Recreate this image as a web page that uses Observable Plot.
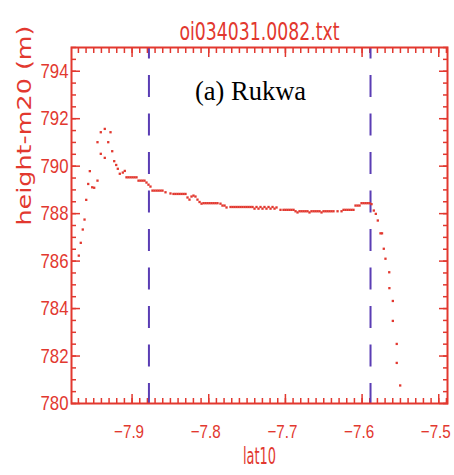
<!DOCTYPE html>
<html>
<head>
<meta charset="utf-8">
<script src="https://cdn.jsdelivr.net/npm/d3@7"></script>
<script src="https://cdn.jsdelivr.net/npm/@observablehq/plot@0.6"></script>
<style>
  html, body { margin: 0; padding: 0; background: #fff; }
</style>
</head>
<body>
<div id="chart"></div>
<script>
const title = "oi034031.0082.txt";
const panelLabel = "(a) Rukwa";
const xLabel = "lat10";
const yLabel = "height-m20 (m)";

const xTicks = [-7.9, -7.8, -7.7, -7.6, -7.5];
const yTicks = [780, 782, 784, 786, 788, 790, 792, 794];
const xDomain = [-7.979, -7.4886];
const yDomain = [780, 795];
const dashLats = [-7.878, -7.589];

const lat = [
  -7.9695, -7.9669, -7.9643, -7.9620, -7.9598, -7.9572, -7.9551, -7.9520, -7.9494, -7.9451,
  -7.9451, -7.9408, -7.9408, -7.9356, -7.9356, -7.9311, -7.9281, -7.9259, -7.9233, -7.9207,
  -7.9186, -7.9160, -7.9121, -7.9095,
  -7.9073, -7.9047, -7.9020, -7.8994, -7.8968, -7.8942, -7.8916, -7.8890, -7.8864, -7.8838,
  -7.8812, -7.8786, -7.8760, -7.8734, -7.8708, -7.8681, -7.8655, -7.8629, -7.8603, -7.8564,
  -7.8499, -7.8460, -7.8434, -7.8407, -7.8381, -7.8355, -7.8329, -7.8303, -7.8277, -7.8251,
  -7.8225, -7.8199, -7.8173, -7.8147, -7.8120, -7.8094, -7.8068, -7.8042, -7.8016, -7.7990,
  -7.7964, -7.7938, -7.7912, -7.7886, -7.7847, -7.7821, -7.7794, -7.7768, -7.7716, -7.7690,
  -7.7664, -7.7638, -7.7612, -7.7586, -7.7560, -7.7533, -7.7507, -7.7481, -7.7455, -7.7429,
  -7.7403, -7.7377, -7.7351, -7.7325, -7.7299, -7.7273, -7.7247, -7.7220, -7.7194, -7.7168,
  -7.7142, -7.7116, -7.7064, -7.7025, -7.6999, -7.6973, -7.6947, -7.6921, -7.6894, -7.6868,
  -7.6842, -7.6816, -7.6790, -7.6764, -7.6738, -7.6712, -7.6686, -7.6660, -7.6633, -7.6607,
  -7.6581, -7.6555, -7.6529, -7.6503, -7.6477, -7.6451, -7.6425, -7.6399, -7.6373, -7.6320,
  -7.6268, -7.6242, -7.6216, -7.6190, -7.6164, -7.6138, -7.6112, -7.6086, -7.6059, -7.6033,
  -7.6007, -7.5981, -7.5955, -7.5929, -7.5903, -7.5877,
  -7.5847, -7.5821, -7.5795, -7.5760, -7.5740, -7.5717, -7.5695, -7.5646, -7.5644, -7.5599,
  -7.5599, -7.5548, -7.5548, -7.5503
];
const height = [
  786.23, 786.77, 787.33, 787.75, 788.58, 789.25, 789.79, 789.11, 789.09, 789.39,
  791.01, 791.43, 790.52, 791.57, 790.35, 791.01, 791.43, 790.63, 790.21, 790.05,
  789.89, 789.68, 789.73, 789.80,
  789.53, 789.53, 789.53, 789.53, 789.53, 789.53, 789.39, 789.39, 789.39, 789.39,
  789.31, 789.22, 789.14, 788.97, 788.97, 788.97, 788.97, 788.97, 788.97, 788.90,
  788.85, 788.83, 788.83, 788.83, 788.83, 788.83, 788.83, 788.83, 788.68, 788.59,
  788.72, 788.76, 788.72, 788.59, 788.49, 788.42, 788.44, 788.44, 788.44, 788.44,
  788.44, 788.44, 788.44, 788.44, 788.42, 788.34, 788.34, 788.26, 788.28, 788.28,
  788.28, 788.28, 788.28, 788.28, 788.28, 788.28, 788.28, 788.28, 788.28, 788.28,
  788.21, 788.28, 788.21, 788.28, 788.21, 788.28, 788.21, 788.28, 788.21, 788.28,
  788.21, 788.26, 788.16, 788.16, 788.16, 788.16, 788.16, 788.16, 788.16, 788.10,
  788.05, 788.10, 788.10, 788.10, 788.10, 788.10, 788.05, 788.10, 788.10, 788.10,
  788.10, 788.10, 788.05, 788.10, 788.10, 788.10, 788.10, 788.10, 788.10, 788.10,
  788.10, 788.16, 788.16, 788.16, 788.16, 788.16, 788.16, 788.34, 788.34, 788.34,
  788.44, 788.44, 788.44, 788.44, 788.44, 788.40,
  788.13, 787.99, 787.71, 787.17, 787.17, 786.52, 786.10, 785.53, 784.86, 784.32,
  783.48, 782.51, 781.71, 780.76
];

const RED = "#e2382f";
const PURPLE = "#5a3db4";
const points = lat.map((d, i) => ({lat: d, h: height[i]}));
const xMinor = d3.range(-797, -748).map(d => d / 100);
const yMinor = d3.range(1560, 1591).map(d => d / 2);
const sansFont = "'DejaVu Sans', sans-serif";

const tickCommon = {text: null, label: null, strokeWidth: 1.5};

const chart = Plot.plot({
  width: 454,
  height: 475,
  marginTop: 47,
  marginBottom: 72,
  marginLeft: 71,
  marginRight: 7,
  style: {background: "#fff", color: RED, fontFamily: sansFont},
  x: {domain: xDomain},
  y: {domain: yDomain},
  marks: [
    Plot.axisX({...tickCommon, anchor: "bottom", ticks: xMinor, tickSize: -5}),
    Plot.axisX({...tickCommon, anchor: "bottom", ticks: xTicks, tickSize: -9}),
    Plot.axisX({...tickCommon, anchor: "top", ticks: xMinor, tickSize: -5}),
    Plot.axisX({...tickCommon, anchor: "top", ticks: xTicks, tickSize: -9}),
    Plot.axisY({...tickCommon, anchor: "left", ticks: yMinor, tickSize: -5}),
    Plot.axisY({...tickCommon, anchor: "left", ticks: yTicks, tickSize: -9}),
    Plot.axisY({...tickCommon, anchor: "right", ticks: yMinor, tickSize: -5}),
    Plot.axisY({...tickCommon, anchor: "right", ticks: yTicks, tickSize: -9}),
    Plot.axisX({anchor: "bottom", ticks: xTicks, tickSize: 0, tickPadding: 21, fontSize: 18.5, label: null, fill: RED, dx: -3,
      fontFamily: "'Liberation Sans', sans-serif",
      tickFormat: d => d.toFixed(1).replace("-", "\u2212"), className: "xtl"}),
    Plot.axisY({anchor: "left", ticks: yTicks, tickSize: 0, tickPadding: 3, fontSize: 21, label: null, fill: RED,
      fontFamily: "'Liberation Sans', sans-serif",
      tickFormat: d => String(d), className: "ytl"}),
    Plot.ruleX(dashLats, {stroke: PURPLE, strokeWidth: 2, strokeDasharray: "22,16.5", strokeDashoffset: 10.5}),
    Plot.frame({stroke: RED, strokeWidth: 2}),
    Plot.dot(points, {x: "lat", y: "h", symbol: "square", r: 1.3, fill: RED, stroke: "none"}),
    Plot.text([panelLabel], {x: -7.7455, y: 793.18, text: d => d, fontFamily: "'Liberation Serif', 'Times New Roman', serif",
      fontSize: 28, fill: "#000", className: "plab"}),
    Plot.text([title], {frameAnchor: "top", dy: -25, text: d => d, fontSize: 25, fill: RED, className: "ttl"}),
    Plot.text([xLabel], {frameAnchor: "bottom", dy: 60, text: d => d, fontSize: 23, fill: RED, className: "xlab"}),
    Plot.text([yLabel], {frameAnchor: "left", dx: -47, rotate: -90, text: d => d, fontSize: 20, fill: RED, className: "ylab"})
  ]
});
const fit = (sel, len) => d3.select(chart).selectAll(sel)
  .attr("textLength", len).attr("lengthAdjust", "spacingAndGlyphs");
fit(".xtl text", 30);
fit(".ytl text", 28);
fit(".ttl text", 160);
fit(".xlab text", 33);
fit(".ylab text", 200);
fit(".plab text", 111);
document.getElementById("chart").appendChild(chart);
</script>
</body>
</html>
